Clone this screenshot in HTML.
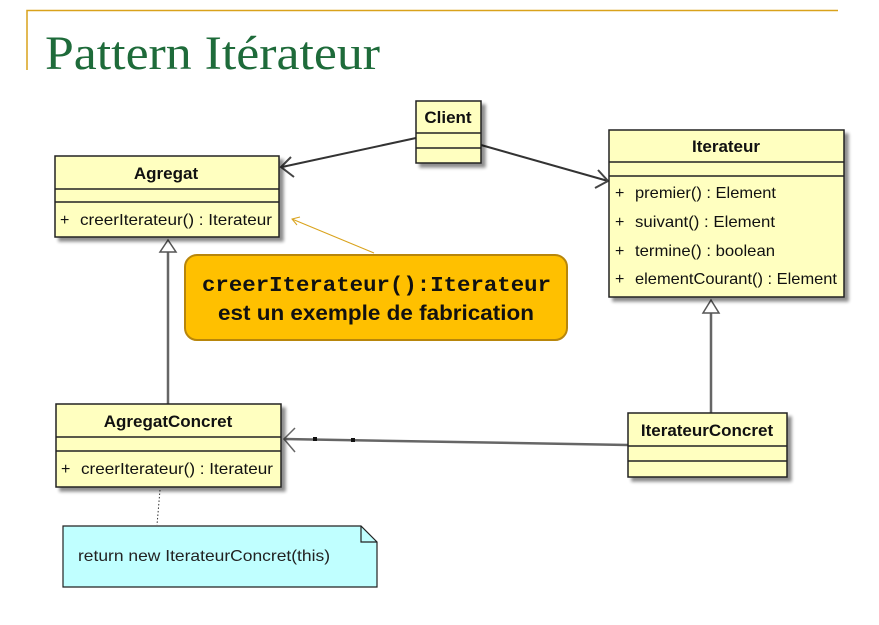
<!DOCTYPE html>
<html><head><meta charset="utf-8"><style>
html,body{margin:0;padding:0;background:#fff;}
svg{display:block;}
text{font-family:"Liberation Sans",Arial,sans-serif;}
</style></head><body>
<svg width="879" height="625" viewBox="0 0 879 625" xmlns="http://www.w3.org/2000/svg">
<defs><filter id="sh" x="-5%" y="-5%" width="115%" height="120%"><feOffset dx="4" dy="4" in="SourceAlpha"/><feGaussianBlur stdDeviation="1.5"/><feComponentTransfer><feFuncA type="linear" slope="0.45"/></feComponentTransfer><feMerge><feMergeNode/><feMergeNode in="SourceGraphic"/></feMerge></filter></defs>
<path d="M27 70 V10.5 H838" fill="none" stroke="#D9A21B" stroke-width="1.5"/>
<text x="45" y="69" font-size="48" fill="#1E6B3A" textLength="335" lengthAdjust="spacingAndGlyphs" style="font-family:'Liberation Serif',serif">Pattern Itérateur</text>

<g stroke="#333" stroke-width="2" fill="none">
<line x1="416" y1="138" x2="282" y2="167"/>
<polyline points="291,157 281,167 294,177" stroke="#444"/>
<line x1="481" y1="145" x2="608" y2="181"/>
<polyline points="598,170 608,181 595,188" stroke="#444"/>
</g>
<g stroke="#666" stroke-width="2.5" fill="none">
<line x1="168" y1="404" x2="168" y2="251"/>
<line x1="711" y1="413" x2="711" y2="313"/>
<line x1="628" y1="445" x2="284" y2="439"/>
<polyline points="295,428 284,439 295,452" stroke-width="1.5"/>
</g>
<polygon points="168,240 160,252 176,252" fill="#fff" stroke="#555" stroke-width="1.5"/>
<polygon points="711,300 703,313 719,313" fill="#fff" stroke="#555" stroke-width="1.5"/>
<rect x="313" y="437" width="4" height="4" fill="#111"/>
<rect x="351" y="438" width="4" height="4" fill="#111"/>
<line x1="160" y1="490" x2="157" y2="525" stroke="#333" stroke-width="1" stroke-dasharray="1.5,2"/>
<line x1="374" y1="253" x2="292" y2="219" stroke="#D9A21B" stroke-width="1"/>
<polyline points="300,217 292,219 297,225" fill="none" stroke="#D9A21B" stroke-width="1"/>

<g fill="#FFFFC0" stroke="#222" stroke-width="1.5" filter="url(#sh)">
<rect x="416" y="101" width="65" height="62"/>
<rect x="55" y="156" width="224" height="81"/>
<rect x="609" y="130" width="235" height="167"/>
<rect x="56" y="404" width="225" height="83"/>
<rect x="628" y="413" width="159" height="64"/>
</g>
<g stroke="#222" stroke-width="1.5">
<line x1="416" y1="133" x2="481" y2="133"/><line x1="416" y1="148" x2="481" y2="148"/>
<line x1="55" y1="189" x2="279" y2="189"/><line x1="55" y1="202" x2="279" y2="202"/>
<line x1="609" y1="162" x2="844" y2="162"/><line x1="609" y1="176" x2="844" y2="176"/>
<line x1="56" y1="437" x2="281" y2="437"/><line x1="56" y1="451" x2="281" y2="451"/>
<line x1="628" y1="446" x2="787" y2="446"/><line x1="628" y1="461" x2="787" y2="461"/>
</g>
<g font-size="17" font-weight="bold" fill="#111" text-anchor="middle">
<text x="448" y="123">Client</text>
<text x="166" y="179">Agregat</text>
<text x="726" y="152">Iterateur</text>
<text x="168" y="427">AgregatConcret</text>
<text x="707" y="436">IterateurConcret</text>
</g>
<g font-size="16" fill="#111" lengthAdjust="spacingAndGlyphs">
<text x="60" y="225">+</text><text x="80" y="225" textLength="192" lengthAdjust="spacingAndGlyphs">creerIterateur() : Iterateur</text>
<text x="615" y="198">+</text><text x="635" y="198" textLength="141" lengthAdjust="spacingAndGlyphs">premier() : Element</text>
<text x="615" y="227">+</text><text x="635" y="227" textLength="140" lengthAdjust="spacingAndGlyphs">suivant() : Element</text>
<text x="615" y="256">+</text><text x="635" y="256" textLength="140" lengthAdjust="spacingAndGlyphs">termine() : boolean</text>
<text x="615" y="284">+</text><text x="635" y="284" textLength="202" lengthAdjust="spacingAndGlyphs">elementCourant() : Element</text>
<text x="61" y="474">+</text><text x="81" y="474" textLength="192" lengthAdjust="spacingAndGlyphs">creerIterateur() : Iterateur</text>
</g>

<path d="M63 526 H361 L377 542 V587 H63 Z" fill="#C0FFFF" stroke="#222" stroke-width="1.2"/>
<path d="M361 526 V542 H377" fill="none" stroke="#222" stroke-width="1.2"/>
<text x="78" y="561" font-size="16" fill="#222" textLength="252" lengthAdjust="spacingAndGlyphs">return new IterateurConcret(this)</text>

<rect x="185" y="255" width="382" height="85" rx="12" fill="#FFC000" stroke="#B8860B" stroke-width="2"/>
<text x="202" y="291" font-size="21" font-weight="bold" fill="#111" textLength="349" lengthAdjust="spacingAndGlyphs" style="font-family:'Liberation Mono',monospace">creerIterateur():Iterateur</text>
<text x="218" y="320" font-size="21" font-weight="bold" fill="#111" textLength="316" lengthAdjust="spacingAndGlyphs">est un exemple de fabrication</text>
</svg>
</body></html>
